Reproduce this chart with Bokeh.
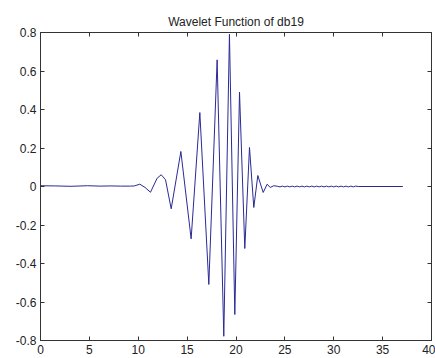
from bokeh.plotting import figure
from bokeh.models import Range1d, LinearAxis, FixedTicker
from bokeh.embed import file_html
from bokeh.resources import INLINE

# values
x_main = [0, 1.5, 3.1, 4.8, 6.1, 7.2, 8.2, 9.2, 9.6, 10.16, 10.7, 11.25, 11.93, 12.35,
          12.79, 13.37, 14.36, 15.41, 16.3, 17.22, 18.07, 18.75, 19.33, 19.88, 20.36,
          20.9, 21.38, 21.82, 22.23, 22.78, 23.19, 23.5, 23.87]
y_main = [0.004, 0.003, 0.001, 0.004, 0.002, 0.003, 0.002, 0.002, 0.003, 0.012, -0.005,
          -0.03, 0.043, 0.061, 0.035, -0.116, 0.182, -0.272, 0.384, -0.509, 0.658, -0.778,
          0.791, -0.665, 0.49, -0.322, 0.203, -0.109, 0.057, -0.031, 0.012, -0.005, 0.004]
x_tail = [24.25, 24.5, 24.75, 25.0, 25.25, 25.5, 25.75, 26.0, 26.25, 26.5, 26.75, 27.0,
          27.25, 27.5, 27.75, 28.0, 28.25, 28.5, 28.75, 29.0, 29.25, 29.5, 29.75, 30.0,
          30.25, 30.5, 30.75, 31.0, 31.25, 31.5, 31.75, 32.0, 32.25, 32.5, 37.07]
y_tail = [0.001, -0.002, 0.002, -0.002, 0.002, -0.002, 0.002, -0.002, 0.002, -0.002,
          0.002, -0.002, 0.002, -0.002, 0.002, -0.002, 0.002, -0.002, 0.002, -0.002,
          0.002, -0.002, 0.002, -0.002, 0.002, -0.002, 0.002, -0.002, 0.002, -0.002,
          0.002, -0.002, 0.002, 0.0, 0.0]

x_ticks = [0, 5, 10, 15, 20, 25, 30, 35, 40]
x_tick_labels = ["0", "5", "10", "15", "20", "25", "30", "35", "40"]
y_ticks = [-0.8, -0.6, -0.4, -0.2, 0, 0.2, 0.4, 0.6, 0.8]
y_tick_labels = ["-0.8", "-0.6", "-0.4", "-0.2", "0", "0.2", "0.4", "0.6", "0.8"]
title_text = "Wavelet Function of db19"

xs = x_main + x_tail
ys = y_main + y_tail

FONT = "Liberation Sans"

p = figure(frame_width=391, frame_height=308, output_backend="svg", toolbar_location=None,
           x_range=Range1d(0, 40), y_range=Range1d(-0.8, 0.8),
           min_border_left=40, min_border_right=4, min_border_top=32, min_border_bottom=18,
           background_fill_color="white", border_fill_color="white")
p.title.text = title_text
p.title.align = "center"
p.title.text_font = FONT
p.title.text_font_size = "12px"
p.title.text_font_style = "normal"
p.title.text_color = "#222222"
p.title.standoff = 8
p.grid.visible = False
p.outline_line_color = "#333333"
p.outline_line_width = 1

p.line(xs, ys, line_color="#2a2a95", line_width=1)

def style(ax, ticks, labels, show):
    ax.ticker = FixedTicker(ticks=ticks)
    ax.major_tick_in = 4
    ax.major_tick_out = 0
    ax.minor_tick_in = 0
    ax.minor_tick_out = 0
    ax.axis_line_color = "#333333"
    ax.major_tick_line_color = "#333333"
    if show:
        ax.major_label_overrides = {t: l for t, l in zip(ticks, labels)}
        ax.major_label_text_font = FONT
        ax.major_label_text_font_size = "12px"
        ax.major_label_text_color = "#222222"
        ax.major_label_standoff = 4
    else:
        ax.major_label_overrides = {t: "" for t in ticks}
        ax.major_label_text_font_size = "0px"
        ax.major_label_text_color = None
        ax.major_label_standoff = 0

style(p.xaxis[0], x_ticks, x_tick_labels, True)
style(p.yaxis[0], y_ticks, y_tick_labels, True)
top = LinearAxis()
right = LinearAxis()
style(top, x_ticks, x_tick_labels, False)
style(right, y_ticks, y_tick_labels, False)
p.add_layout(top, "above")
p.add_layout(right, "right")

open("out.html", "w").write(file_html(p, INLINE))
